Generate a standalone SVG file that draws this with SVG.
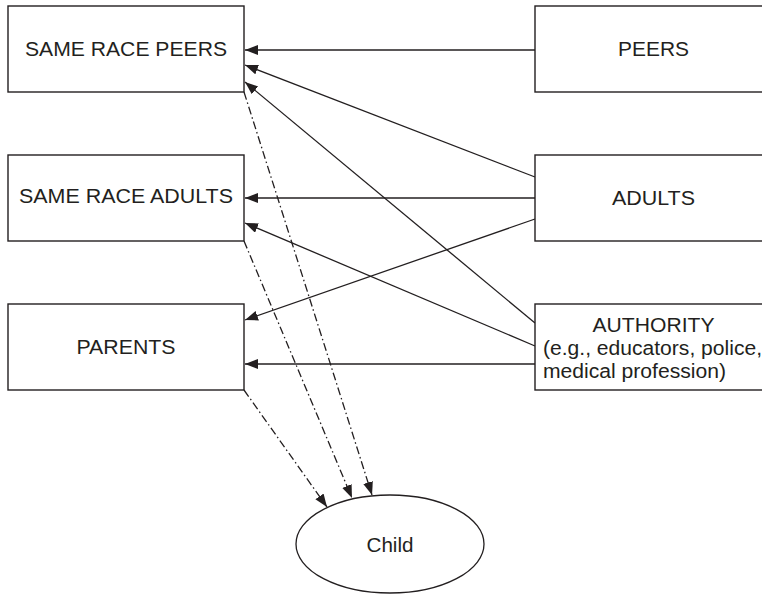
<svg xmlns="http://www.w3.org/2000/svg" width="762" height="596" viewBox="0 0 762 596">
<style>
.box{fill:#fff;stroke:#231f20;stroke-width:1.4}
.t{font-family:"Liberation Sans",Arial,sans-serif;font-size:20px;fill:#231f20}
.c{stroke:#231f20;stroke-width:1.3;fill:none;marker-end:url(#ah)}
.d{stroke-dasharray:8 3 1.5 3}
</style>
<defs>
<marker id="ah" markerUnits="userSpaceOnUse" markerWidth="14" markerHeight="11" refX="13" refY="5" orient="auto">
<path d="M0,0 L13,5 L0,10 z" fill="#231f20"/>
</marker>
</defs>
<rect width="762" height="596" fill="#fff"/>
<g id="connectors">
<line class="c" x1="535" y1="50" x2="245" y2="50"/>
<line class="c" x1="535" y1="177" x2="245" y2="65"/>
<line class="c" x1="535" y1="323" x2="245" y2="82"/>
<line class="c" x1="535" y1="198" x2="245" y2="198"/>
<line class="c" x1="535" y1="346" x2="245" y2="223"/>
<line class="c" x1="535" y1="219" x2="245" y2="320"/>
<line class="c" x1="535" y1="364" x2="245" y2="364"/>
<line class="c d" x1="244" y1="92" x2="372" y2="495"/>
<line class="c d" x1="244" y1="241" x2="352" y2="498"/>
<line class="c d" x1="244" y1="390" x2="327" y2="507"/>
</g>
<g id="same-race-peers">
<rect class="box" x="8" y="6" width="236" height="86"/>
<text class="t" x="126" y="56" text-anchor="middle" textLength="202" lengthAdjust="spacingAndGlyphs">SAME RACE PEERS</text>
</g>
<g id="same-race-adults">
<rect class="box" x="8" y="155" width="236" height="86"/>
<text class="t" x="126" y="203" text-anchor="middle" textLength="214" lengthAdjust="spacingAndGlyphs">SAME RACE ADULTS</text>
</g>
<g id="parents">
<rect class="box" x="8" y="304" width="236" height="86"/>
<text class="t" x="126" y="354" text-anchor="middle" textLength="99" lengthAdjust="spacingAndGlyphs">PARENTS</text>
</g>
<g id="peers">
<rect class="box" x="535" y="6" width="240" height="86"/>
<text class="t" x="653.5" y="56" text-anchor="middle" textLength="71" lengthAdjust="spacingAndGlyphs">PEERS</text>
</g>
<g id="adults">
<rect class="box" x="535" y="155" width="240" height="86"/>
<text class="t" x="653.5" y="205" text-anchor="middle" textLength="83" lengthAdjust="spacingAndGlyphs">ADULTS</text>
</g>
<g id="authority">
<rect class="box" x="535" y="304" width="240" height="86"/>
<text class="t" x="653.5" y="332" text-anchor="middle" textLength="122" lengthAdjust="spacingAndGlyphs">AUTHORITY</text>
<text class="t" x="543" y="355" textLength="219" lengthAdjust="spacingAndGlyphs">(e.g., educators, police,</text>
<text class="t" x="543" y="378" textLength="183" lengthAdjust="spacingAndGlyphs">medical profession)</text>
</g>
<g id="child">
<ellipse cx="390" cy="544" rx="94" ry="49" fill="#fff" stroke="#231f20" stroke-width="1.3"/>
<text class="t" x="390" y="552" text-anchor="middle" textLength="47" lengthAdjust="spacingAndGlyphs">Child</text>
</g>
</svg>
